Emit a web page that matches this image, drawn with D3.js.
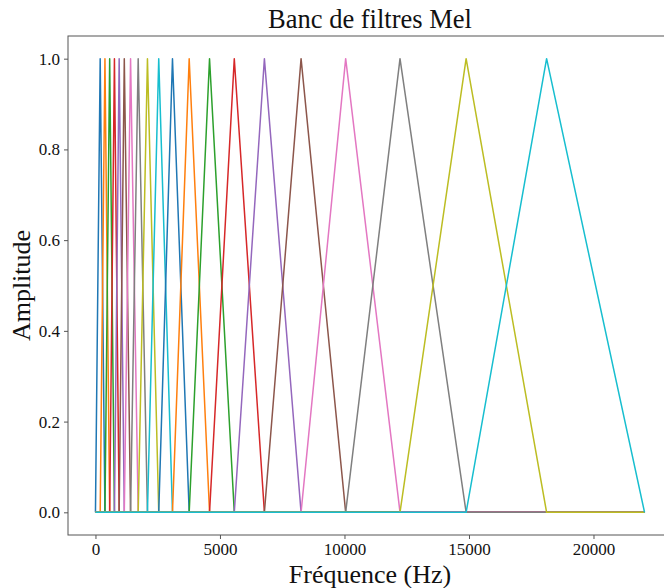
<!DOCTYPE html>
<html>
<head>
<meta charset="utf-8">
<script src="https://cdn.jsdelivr.net/npm/d3@7"></script>
<style>
  html, body { margin: 0; padding: 0; background: #fff; }
  svg { display: block; }
  text { font-family: "Liberation Serif", "DejaVu Serif", serif; fill: #111; }
</style>
</head>
<body>
<svg id="chart" width="664" height="588"></svg>
<script>
// Edge / centre frequencies (Hz) of the 20 Mel filters
const melPoints = [0, 190, 381, 571, 762, 952, 1158, 1410, 1716, 2088, 2541,
                   3093, 3764, 4581, 5575, 6784, 8257, 10048, 12230, 14885, 18117, 22050];
const fMax = 22050;
const xTicks = [0, 5000, 10000, 15000, 20000];
const yTicks = [0.0, 0.2, 0.4, 0.6, 0.8, 1.0];
const colors = ["#1f77b4", "#ff7f0e", "#2ca02c", "#d62728", "#9467bd",
                "#8c564b", "#e377c2", "#7f7f7f", "#bcbd22", "#17becf"];
const title = "Banc de filtres Mel";
const xLabel = "Fréquence (Hz)";
const yLabel = "Amplitude";

// Build filter polylines from edges
const filters = d3.range(melPoints.length - 2).map(i => [
  [0, 0], [melPoints[i], 0], [melPoints[i + 1], 1], [melPoints[i + 2], 0], [fMax, 0]
]);

const svg = d3.select("#chart");
const plot = { left: 68, top: 36, right: 672, bottom: 535 };

const x = d3.scaleLinear().domain([-0.05 * fMax, 1.05 * fMax]).range([plot.left, plot.right]);
const y = d3.scaleLinear().domain([-0.05, 1.05]).range([plot.bottom, plot.top]);

const line = d3.line().x(d => x(d[0])).y(d => y(d[1]));

const g = svg.append("g");
g.selectAll("path.filter")
  .data(filters)
  .enter().append("path")
  .attr("class", "filter")
  .attr("d", line)
  .attr("fill", "none")
  .attr("stroke", (d, i) => colors[i % colors.length])
  .attr("stroke-width", 1.5)
  .attr("stroke-linejoin", "round");

// frame
svg.append("rect")
  .attr("x", plot.left).attr("y", plot.top)
  .attr("width", plot.right - plot.left).attr("height", plot.bottom - plot.top)
  .attr("fill", "none").attr("stroke", "#555").attr("stroke-width", 1);

// axes
const xAxis = d3.axisBottom(x).tickValues(xTicks).tickSize(4).tickPadding(4).tickFormat(d3.format("d"));
const yAxis = d3.axisLeft(y).tickValues(yTicks).tickSize(4).tickPadding(4).tickFormat(d3.format(".1f"));

const gx = svg.append("g").attr("transform", `translate(0,${plot.bottom})`).call(xAxis);
const gy = svg.append("g").attr("transform", `translate(${plot.left},0)`).call(yAxis);
[gx, gy].forEach(a => {
  a.attr("font-family", "Liberation Serif").attr("font-size", 17);
  a.select(".domain").remove();
  a.selectAll(".tick line").attr("stroke", "#555");
  a.selectAll(".tick text")
    .attr("font-family", "Liberation Serif")
    .style("font-family", "Liberation Serif")
    .style("font-size", "17px")
    .attr("fill", "#111");
});

svg.append("text")
  .attr("x", (plot.left + plot.right) / 2).attr("y", 28)
  .attr("text-anchor", "middle").style("font-size", "26.5px").text(title);

svg.append("text")
  .attr("x", (plot.left + plot.right) / 2).attr("y", 583)
  .attr("text-anchor", "middle").style("font-size", "26px").text(xLabel);

svg.append("text")
  .attr("transform", `translate(30,${(plot.top + plot.bottom) / 2}) rotate(-90)`)
  .attr("text-anchor", "middle").style("font-size", "26px").text(yLabel);
</script>
</body>
</html>
